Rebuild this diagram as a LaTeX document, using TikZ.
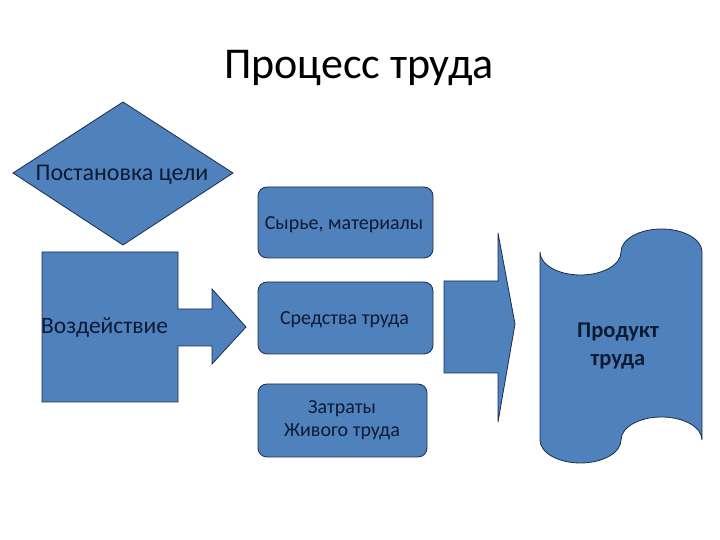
\documentclass[tikz,border=0pt]{standalone}
\usepackage{fontspec}
\setmainfont{Carlito}
\definecolor{shapefill}{HTML}{4F81BD}
\definecolor{shapeline}{HTML}{1B2D4A}
\definecolor{shapetext}{HTML}{0E1A33}
\begin{document}
\begin{tikzpicture}[x=1pt,y=1pt,
  shp/.style={fill=shapefill,draw=shapeline,line width=0.8pt,line join=miter},
  rbox/.style={shp,rounded corners=9pt},
  lbl/.style={text=shapetext,inner sep=0pt,font=\fontsize{20}{24}\selectfont,align=center}]
\useasboundingbox (0,0) rectangle (720,540);
% title
\node[inner sep=0pt,font=\fontsize{44}{52}\selectfont] (title) at (359,472) {Процесс труда};
% diamond
\draw[shp] (123,438) -- (233,367) -- (123,295) -- (13,367) -- cycle;
\node[lbl,font=\fontsize{24}{28}\selectfont] (goal) at (122,365) {Постановка цели};
% callout block with arrow
\draw[shp] (42,288) -- (178,288) -- (178,231) -- (212,231) -- (212,251) -- (246,213)
  -- (212,176) -- (212,194) -- (178,194) -- (178,138) -- (42,138) -- cycle;
\node[lbl,font=\fontsize{23.5}{28}\selectfont,anchor=west] (act) at (41,213) {Воздействие};
% rounded boxes
\draw[rbox] (258,353) rectangle (433,282);
\node[lbl] (raw) at (344,315) {Сырье, материалы};
\draw[rbox] (258,258) rectangle (433,186);
\node[lbl] (means) at (344.5,220) {Средства труда};
\draw[rbox] (258,156) rectangle (427,83);
\node[lbl,font=\fontsize{20}{23}\selectfont] (labour) at (342,120) {Затраты\\Живого труда};
% big arrow
\draw[shp] (444,259) -- (498,259) -- (498,307) -- (515,216) -- (498,118) -- (498,167)
  -- (444,167) -- cycle;
% punched tape
\draw[shp] (540,288) arc[start angle=180,end angle=360,x radius=40.5pt,y radius=23pt]
  arc[start angle=180,end angle=0,x radius=40.5pt,y radius=23pt]
  -- (702,100)
  arc[start angle=0,end angle=180,x radius=40.5pt,y radius=23pt]
  arc[start angle=0,end angle=-180,x radius=40.5pt,y radius=23pt]
  -- cycle;
\node[lbl,font=\bfseries\fontsize{22.5}{28}\selectfont] (prod) at (618,194) {Продукт\\труда};
\end{tikzpicture}
\end{document}
